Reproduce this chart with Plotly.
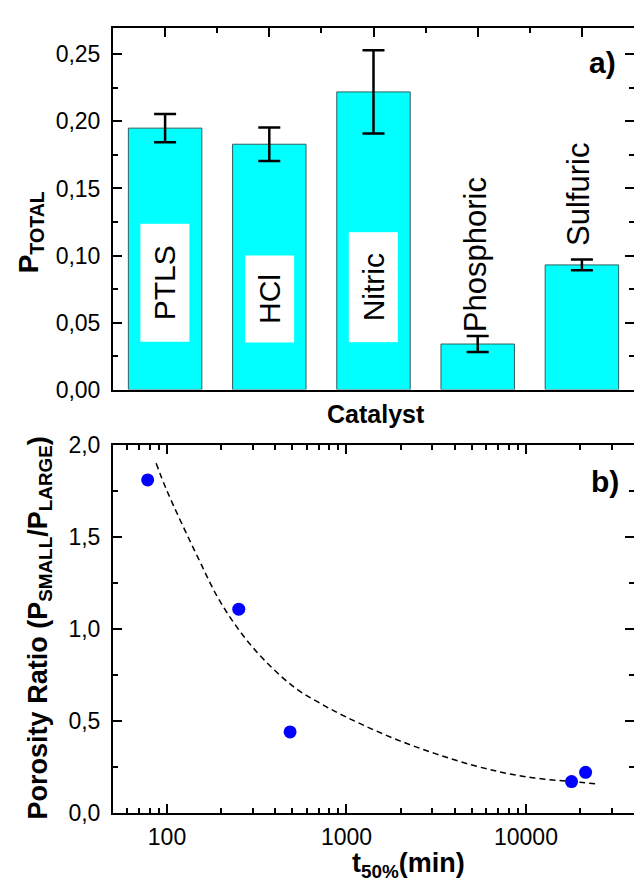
import plotly.graph_objects as go
import math

# ---------------- data ----------------
catalysts = ["PTLS", "HCl", "Nitric", "Phosphoric", "Sulfuric"]
p_total = [0.195, 0.183, 0.222, 0.034, 0.093]
p_total_err = [0.0105, 0.0125, 0.031, 0.006, 0.004]

t50_min = [78, 251, 485, 17950, 21500]
porosity_ratio = [1.81, 1.107, 0.44, 0.17, 0.22]

fit_t50 = [87, 100, 150, 200, 300, 500, 700, 1000, 2000, 5000, 10000, 20000, 25350]
fit_ratio = [1.90, 1.75, 1.38, 1.14, 0.90, 0.69, 0.60, 0.52, 0.39, 0.26, 0.196, 0.166, 0.157]

y_ticks_a = [0.00, 0.05, 0.10, 0.15, 0.20, 0.25]
y_ticks_b = [0.0, 0.5, 1.0, 1.5, 2.0]
x_ticks_b = [100, 1000, 10000]
x_ticklabels_b = ["100", "1000", "10000"]
x_minor_b = [60, 70, 80, 90, 200, 300, 400, 500, 600, 700, 800, 900,
             2000, 3000, 4000, 5000, 6000, 7000, 8000, 9000, 20000, 30000]

# ---------------- layout helpers ----------------
W, H = 634, 886
FONT = "Liberation Sans, Arial, sans-serif"


def fx(p):
    return p / W


def fy(p):
    return 1 - p / H


dom_x = [fx(113), 1.0]
dom_ya = [fy(388), fy(15)]
dom_yb = [fy(824), fy(445)]

tickfont = dict(family=FONT, size=23, color="black")

fig = go.Figure()

# panel a bars
fig.add_trace(go.Bar(
    x=catalysts, y=p_total,
    error_y=dict(type="data", array=p_total_err, color="black", thickness=2.5, width=11),
    marker=dict(color="#00FFFF", line=dict(color="#2f5f5f", width=1)),
    width=0.705, xaxis="x", yaxis="y", showlegend=False, hoverinfo="skip",
))
# invisible helpers for overlay axes (top / right ticks)
fig.add_trace(go.Scatter(x=[0], y=[0], xaxis="x3", yaxis="y", mode="markers",
                         marker=dict(opacity=0), showlegend=False, hoverinfo="skip"))
fig.add_trace(go.Scatter(x=[0], y=[0], xaxis="x", yaxis="y3", mode="markers",
                         marker=dict(opacity=0), showlegend=False, hoverinfo="skip"))

# panel b
fig.add_trace(go.Scatter(
    x=fit_t50, y=fit_ratio, mode="lines",
    line=dict(color="black", width=1.5, dash="6px,4px", shape="spline", smoothing=1),
    xaxis="x2", yaxis="y2", showlegend=False, hoverinfo="skip",
))
fig.add_trace(go.Scatter(
    x=t50_min, y=porosity_ratio, mode="markers",
    marker=dict(color="#0000FF", size=13, line=dict(width=0)),
    xaxis="x2", yaxis="y2", showlegend=False, hoverinfo="skip",
))
fig.add_trace(go.Scatter(x=[100], y=[0], xaxis="x4", yaxis="y2", mode="markers",
                         marker=dict(opacity=0), showlegend=False, hoverinfo="skip"))
fig.add_trace(go.Scatter(x=[100], y=[0], xaxis="x2", yaxis="y4", mode="markers",
                         marker=dict(opacity=0), showlegend=False, hoverinfo="skip"))

common_line = dict(showline=True, linecolor="black", linewidth=2, showgrid=False, zeroline=False)

annotations = []
# bar labels in white boxes
box_widths = {"PTLS": 113, "HCl": 82, "Nitric": 105}
for c in catalysts[:3]:
    annotations.append(dict(
        x=c, y=0.035, xref="x", yref="y", xanchor="center", yanchor="bottom",
        text=c, textangle=-90, showarrow=False, bgcolor="white",
        width=box_widths[c], height=44, borderpad=2,
        font=dict(family=FONT, size=30, color="black"),
    ))
# labels above small bars
shifts = {"Phosphoric": (-2, 2), "Sulfuric": (-4, 12)}
for i, c in enumerate(catalysts[3:], start=3):
    annotations.append(dict(
        x=c, y=p_total[i] + p_total_err[i], xref="x", yref="y", xanchor="center", yanchor="bottom",
        text=c, textangle=-90, showarrow=False, xshift=shifts[c][0], yshift=shifts[c][1],
        font=dict(family=FONT, size=31, color="black"),
    ))


def label(px, py, text, size, angle=0):
    return dict(x=fx(px), y=fy(py), xref="paper", yref="paper", xanchor="center", yanchor="middle",
                text=text, textangle=angle, showarrow=False,
                font=dict(family=FONT, size=size, color="black"))


annotations += [
    label(30, 226, "<b>P<sub>TOTAL</sub></b>", 28, -90),
    label(376, 413, "<b>Catalyst</b>", 25),
    label(40, 634, "<b>Porosity Ratio (P<sub>SMALL</sub>/P<sub>LARGE</sub>)</b>", 27, -90),
    label(408, 878, "<b>t<sub>50%</sub>(min)</b>", 27),
    label(602, 51, "<b>a)</b>", 30),
    label(605, 483, "<b>b)</b>", 30),
]

fig.update_layout(
    width=W, height=H,
    margin=dict(l=0, r=0, t=0, b=0),
    paper_bgcolor="white", plot_bgcolor="white",
    separators=", ",
    font=dict(family=FONT, color="black"),
    annotations=annotations,
    # ---- panel a
    xaxis=dict(domain=dom_x, anchor="y", type="category", range=[-0.5, 4.5],
               showticklabels=False, ticks="", mirror=True, **common_line),
    xaxis3=dict(overlaying="x", anchor="y", side="top", type="linear", range=[-0.5, 4.5],
                tickvals=[0, 1, 2, 3, 4], ticks="inside", ticklen=9, tickwidth=2, tickcolor="black",
                minor=dict(tickvals=[0.5, 1.5, 2.5, 3.5], ticks="inside", ticklen=5, tickwidth=2,
                           tickcolor="black"),
                showticklabels=False, showline=False, showgrid=False, zeroline=False),
    yaxis=dict(domain=dom_ya, anchor="x", range=[0, 0.27], tickvals=y_ticks_a, tickformat=".2f",
               ticks="inside", ticklen=9, tickwidth=2, tickcolor="black", tickfont=tickfont,
               ticklabelstandoff=6,
               minor=dict(dtick=0.025, tick0=0, ticks="inside", ticklen=5, tickwidth=2, tickcolor="black"),
               **common_line),
    yaxis3=dict(overlaying="y", anchor="x", side="right", range=[0, 0.27], tickvals=y_ticks_a,
                ticks="inside", ticklen=9, tickwidth=2, tickcolor="black",
                minor=dict(dtick=0.025, tick0=0, ticks="inside", ticklen=5, tickwidth=2, tickcolor="black"),
                showticklabels=False, showline=False, showgrid=False, zeroline=False),
    # ---- panel b
    xaxis2=dict(domain=dom_x, anchor="y2", type="log", range=[math.log10(50), math.log10(40000)],
                tickvals=x_ticks_b, ticktext=x_ticklabels_b, ticks="inside", ticklen=9, tickwidth=2,
                tickcolor="black", tickfont=tickfont, ticklabelstandoff=3,
                minor=dict(tickvals=x_minor_b, ticks="inside", ticklen=5, tickwidth=2, tickcolor="black"),
                mirror=True, **common_line),
    xaxis4=dict(overlaying="x2", anchor="y2", side="top", type="log",
                range=[math.log10(50), math.log10(40000)],
                tickvals=x_ticks_b, ticks="inside", ticklen=9, tickwidth=2, tickcolor="black",
                minor=dict(tickvals=x_minor_b, ticks="inside", ticklen=5, tickwidth=2, tickcolor="black"),
                showticklabels=False, showline=False, showgrid=False, zeroline=False),
    yaxis2=dict(domain=dom_yb, anchor="x2", range=[0, 2.0], tickvals=y_ticks_b, tickformat=".1f",
                ticks="inside", ticklen=9, tickwidth=2, tickcolor="black", tickfont=tickfont,
                ticklabelstandoff=6,
                minor=dict(dtick=0.25, tick0=0, ticks="inside", ticklen=5, tickwidth=2, tickcolor="black"),
                **common_line),
    yaxis4=dict(overlaying="y2", anchor="x2", side="right", range=[0, 2.0], tickvals=y_ticks_b,
                ticks="inside", ticklen=9, tickwidth=2, tickcolor="black",
                minor=dict(dtick=0.25, tick0=0, ticks="inside", ticklen=5, tickwidth=2, tickcolor="black"),
                showticklabels=False, showline=False, showgrid=False, zeroline=False),
)

fig.write_html("out.html")
